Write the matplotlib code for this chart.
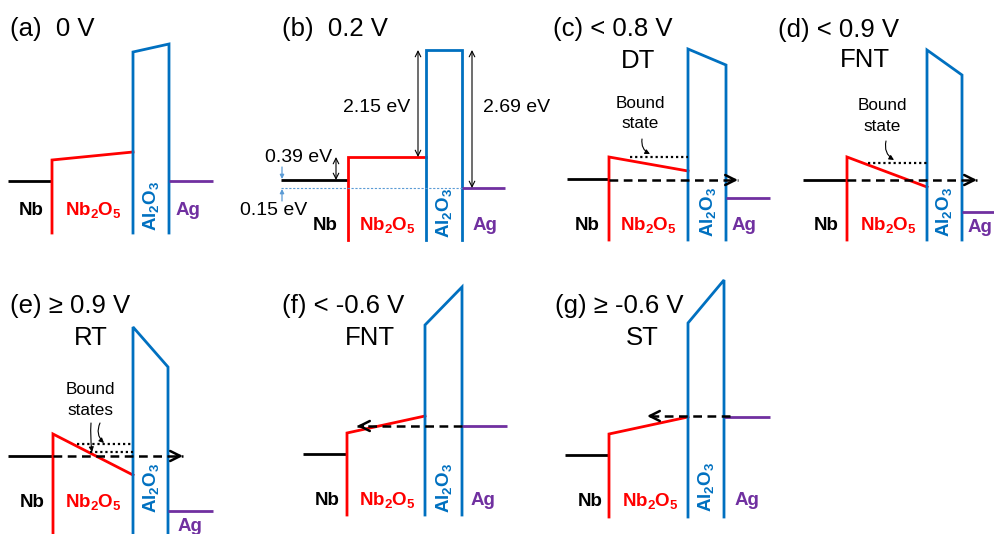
import matplotlib
matplotlib.use('Agg')
import matplotlib.pyplot as plt

plt.rcParams['font.family'] = ['Liberation Sans', 'DejaVu Sans']
plt.rcParams['mathtext.fontset'] = 'custom'
plt.rcParams['mathtext.rm'] = 'Liberation Sans'
plt.rcParams['mathtext.bf'] = 'Liberation Sans:bold'
plt.rcParams['mathtext.it'] = 'Liberation Sans:italic'

# ---------------- data (pixel-space schematic coordinates) ----------------
panels = ['a', 'b', 'c', 'd', 'e', 'f', 'g']
x_nb_start = [8, 281, 567, 803, 8, 303, 565]
x_nb2o5 = [52, 348, 609, 847, 53, 347, 609]
x_al_left = [133, 426, 688, 927, 133, 425, 688]
x_al_right = [169, 462, 726, 962, 168, 462, 724]
x_ag_end = [213, 505, 770, 995, 213, 507, 770]
y_nb = [181, 180, 179, 180, 456, 454, 455]
y_nb2o5_left = [160, 157, 157, 157, 434, 433, 434]
y_nb2o5_right = [152, 157, 171, 187, 475, 416, 417]
y_al_left = [52, 50, 49, 50, 327, 325, 323]
y_al_right = [44, 50, 65, 75, 367, 287, 280]
y_ag = [181, 188, 198, 212, 511, 426, 417]
y_bottom = [233, 240, 240, 240, 540, 515, 517]

titles = ['(a)  0 V', '(b)  0.2 V', '(c) < 0.8 V', '(d) < 0.9 V',
          '(e) ≥ 0.9 V', '(f) < -0.6 V', '(g) ≥ -0.6 V']
title_x = [10, 282, 553, 778, 10, 282, 555]
title_y = [36, 36, 36, 37, 313, 313, 313]
mechs = ['', '', 'DT', 'FNT', 'RT', 'FNT', 'ST']
mech_x = [0, 0, 638, 865, 91, 370, 642]
mech_y = [0, 0, 68, 67, 345, 345, 345]

lab_nb_x = [31, 325, 587, 826, 32, 327, 590]
lab_nb2o5_x = [93, 387, 648, 888, 93, 387, 650]
lab_y = [215, 230, 230, 230, 507, 505, 506]
lab_al_x = [151, 444, 708, 944, 151, 444, 706]
lab_al_y = [206, 213, 212, 212, 488, 488, 487]
lab_ag_x = [188, 485, 744, 980, 190, 483, 747]
lab_ag_y = [215, 230, 230, 232, 531, 505, 505]

# tunnelling arrows (start x, end x, y) for panels c,d,e,f,g
tun_panels = ['c', 'd', 'e', 'f', 'g']
tun_x0 = [609, 847, 53, 462, 730]
tun_x1 = [738, 977, 183, 357, 647]
tun_y = [180, 180, 456, 426, 416]

# bound-state dotted levels
bound_x0 = [630, 868, 77, 90]
bound_x1 = [688, 927, 133, 133]
bound_y = [157, 163, 444, 452]

# panel (b) energy annotations
b_labels = ['2.15 eV', '2.69 eV', '0.39 eV', '0.15 eV']

BLACK = '#000000'
RED = '#FF0000'
BLUE = '#0070C0'
PURPLE = '#7030A0'
LBLUE = '#5B9BD5'

TITLE_FS = 18.5
LAB_FS = 13.5
ANN_FS = 14
BS_FS = 12.3

fig = plt.figure(figsize=(9.95, 5.34), dpi=100)
ax = fig.add_axes([0, 0, 1, 1])
ax.set_xlim(0, 995)
ax.set_ylim(534, 0)
ax.axis('off')

LW = 2.0
for i, p in enumerate(panels):
    # Nb Fermi level
    ax.plot([x_nb_start[i], x_nb2o5[i]], [y_nb[i], y_nb[i]], color=BLACK, lw=LW,
            solid_capstyle='butt')
    # Nb2O5 conduction band
    ax.plot([x_nb2o5[i], x_nb2o5[i], x_al_left[i]],
            [y_bottom[i], y_nb2o5_left[i], y_nb2o5_right[i]],
            color=RED, lw=LW, solid_joinstyle='miter')
    # Al2O3 barrier
    ax.plot([x_al_left[i], x_al_left[i], x_al_right[i], x_al_right[i]],
            [y_bottom[i], y_al_left[i], y_al_right[i], y_bottom[i]],
            color=BLUE, lw=LW, solid_joinstyle='miter')
    # Ag Fermi level
    ax.plot([x_al_right[i], x_ag_end[i]], [y_ag[i], y_ag[i]], color=PURPLE, lw=LW,
            solid_capstyle='butt')

    # titles
    ax.text(title_x[i], title_y[i], titles[i], fontsize=TITLE_FS, ha='left', va='baseline')
    if mechs[i]:
        ax.text(mech_x[i], mech_y[i], mechs[i], fontsize=TITLE_FS, ha='center',
                va='baseline')

    # material labels
    ax.text(lab_nb_x[i], lab_y[i], 'Nb', fontsize=LAB_FS, fontweight='bold', color=BLACK,
            ha='center', va='baseline')
    ax.text(lab_nb2o5_x[i], lab_y[i], r'Nb$_\mathbf{2}$O$_\mathbf{5}$', fontsize=LAB_FS,
            fontweight='bold', color=RED, ha='center', va='baseline')
    ax.text(lab_al_x[i], lab_al_y[i], r'Al$_\mathbf{2}$O$_\mathbf{3}$', fontsize=LAB_FS,
            fontweight='bold', color=BLUE, ha='center', va='center', rotation=90)
    ax.text(lab_ag_x[i], lab_ag_y[i], 'Ag', fontsize=LAB_FS, fontweight='bold',
            color=PURPLE, ha='center', va='baseline')

# tunnelling arrows
for x0, x1, y in zip(tun_x0, tun_x1, tun_y):
    ax.plot([x0, x1], [y, y], color=BLACK, lw=1.8, ls=(0, (3.5, 2.2)))
    d = 1 if x1 > x0 else -1
    ax.annotate('', xy=(x1, y), xytext=(x1 - d * 6, y),
                arrowprops=dict(arrowstyle='->', color=BLACK, lw=1.8,
                                mutation_scale=18, shrinkA=0, shrinkB=0))

# bound states
for x0, x1, y in zip(bound_x0, bound_x1, bound_y):
    ax.plot([x0, x1], [y, y], color=BLACK, lw=1.6, ls=(0, (1, 1.3)))

small = dict(arrowstyle='-|>', color=BLACK, lw=0.8, mutation_scale=7,
             shrinkA=0, shrinkB=0)
# (c)
ax.text(640, 108, 'Bound', fontsize=BS_FS, ha='center', va='baseline')
ax.text(640, 128, 'state', fontsize=BS_FS, ha='center', va='baseline')
ax.annotate('', xy=(650, 154), xytext=(642, 139),
            arrowprops=dict(connectionstyle='arc3,rad=0.35', **small))
# (d)
ax.text(882, 110, 'Bound', fontsize=BS_FS, ha='center', va='baseline')
ax.text(882, 131, 'state', fontsize=BS_FS, ha='center', va='baseline')
ax.annotate('', xy=(894, 160), xytext=(886, 141),
            arrowprops=dict(connectionstyle='arc3,rad=0.35', **small))
# (e)
ax.text(90, 394, 'Bound', fontsize=BS_FS, ha='center', va='baseline')
ax.text(90, 415, 'states', fontsize=BS_FS, ha='center', va='baseline')
ax.annotate('', xy=(92, 452), xytext=(91, 423),
            arrowprops=dict(connectionstyle='arc3,rad=0.05', **small))
ax.annotate('', xy=(104, 443), xytext=(100, 423),
            arrowprops=dict(connectionstyle='arc3,rad=0.35', **small))

# panel (b) annotations
dbl = dict(arrowstyle='<->', color=BLACK, lw=0.8, mutation_scale=10,
           shrinkA=0, shrinkB=0)
ax.annotate('', xy=(418, y_al_left[1]), xytext=(418, y_nb2o5_left[1]), arrowprops=dbl)
ax.annotate('', xy=(472, y_al_right[1]), xytext=(472, y_ag[1]), arrowprops=dbl)
ax.annotate('', xy=(336, y_nb2o5_left[1]), xytext=(336, y_nb[1]), arrowprops=dbl)
ax.text(410, 112, b_labels[0], fontsize=ANN_FS, ha='right', va='baseline')
ax.text(483, 112, b_labels[1], fontsize=ANN_FS, ha='left', va='baseline')
ax.text(265, 162, b_labels[2], fontsize=ANN_FS, ha='left', va='baseline')
ax.text(240, 215, b_labels[3], fontsize=ANN_FS, ha='left', va='baseline')
ax.plot([x_nb_start[1], x_al_right[1]], [y_ag[1], y_ag[1]], color=LBLUE, lw=0.8,
        ls=(0, (2, 1.5)))
lb = dict(arrowstyle='-|>', color=LBLUE, lw=0.9, mutation_scale=6,
          shrinkA=0, shrinkB=0)
ax.annotate('', xy=(282, y_nb[1] - 1), xytext=(282, 167), arrowprops=lb)
ax.annotate('', xy=(282, y_ag[1] + 1), xytext=(282, 201), arrowprops=lb)

fig.savefig('out.png', dpi=100)
